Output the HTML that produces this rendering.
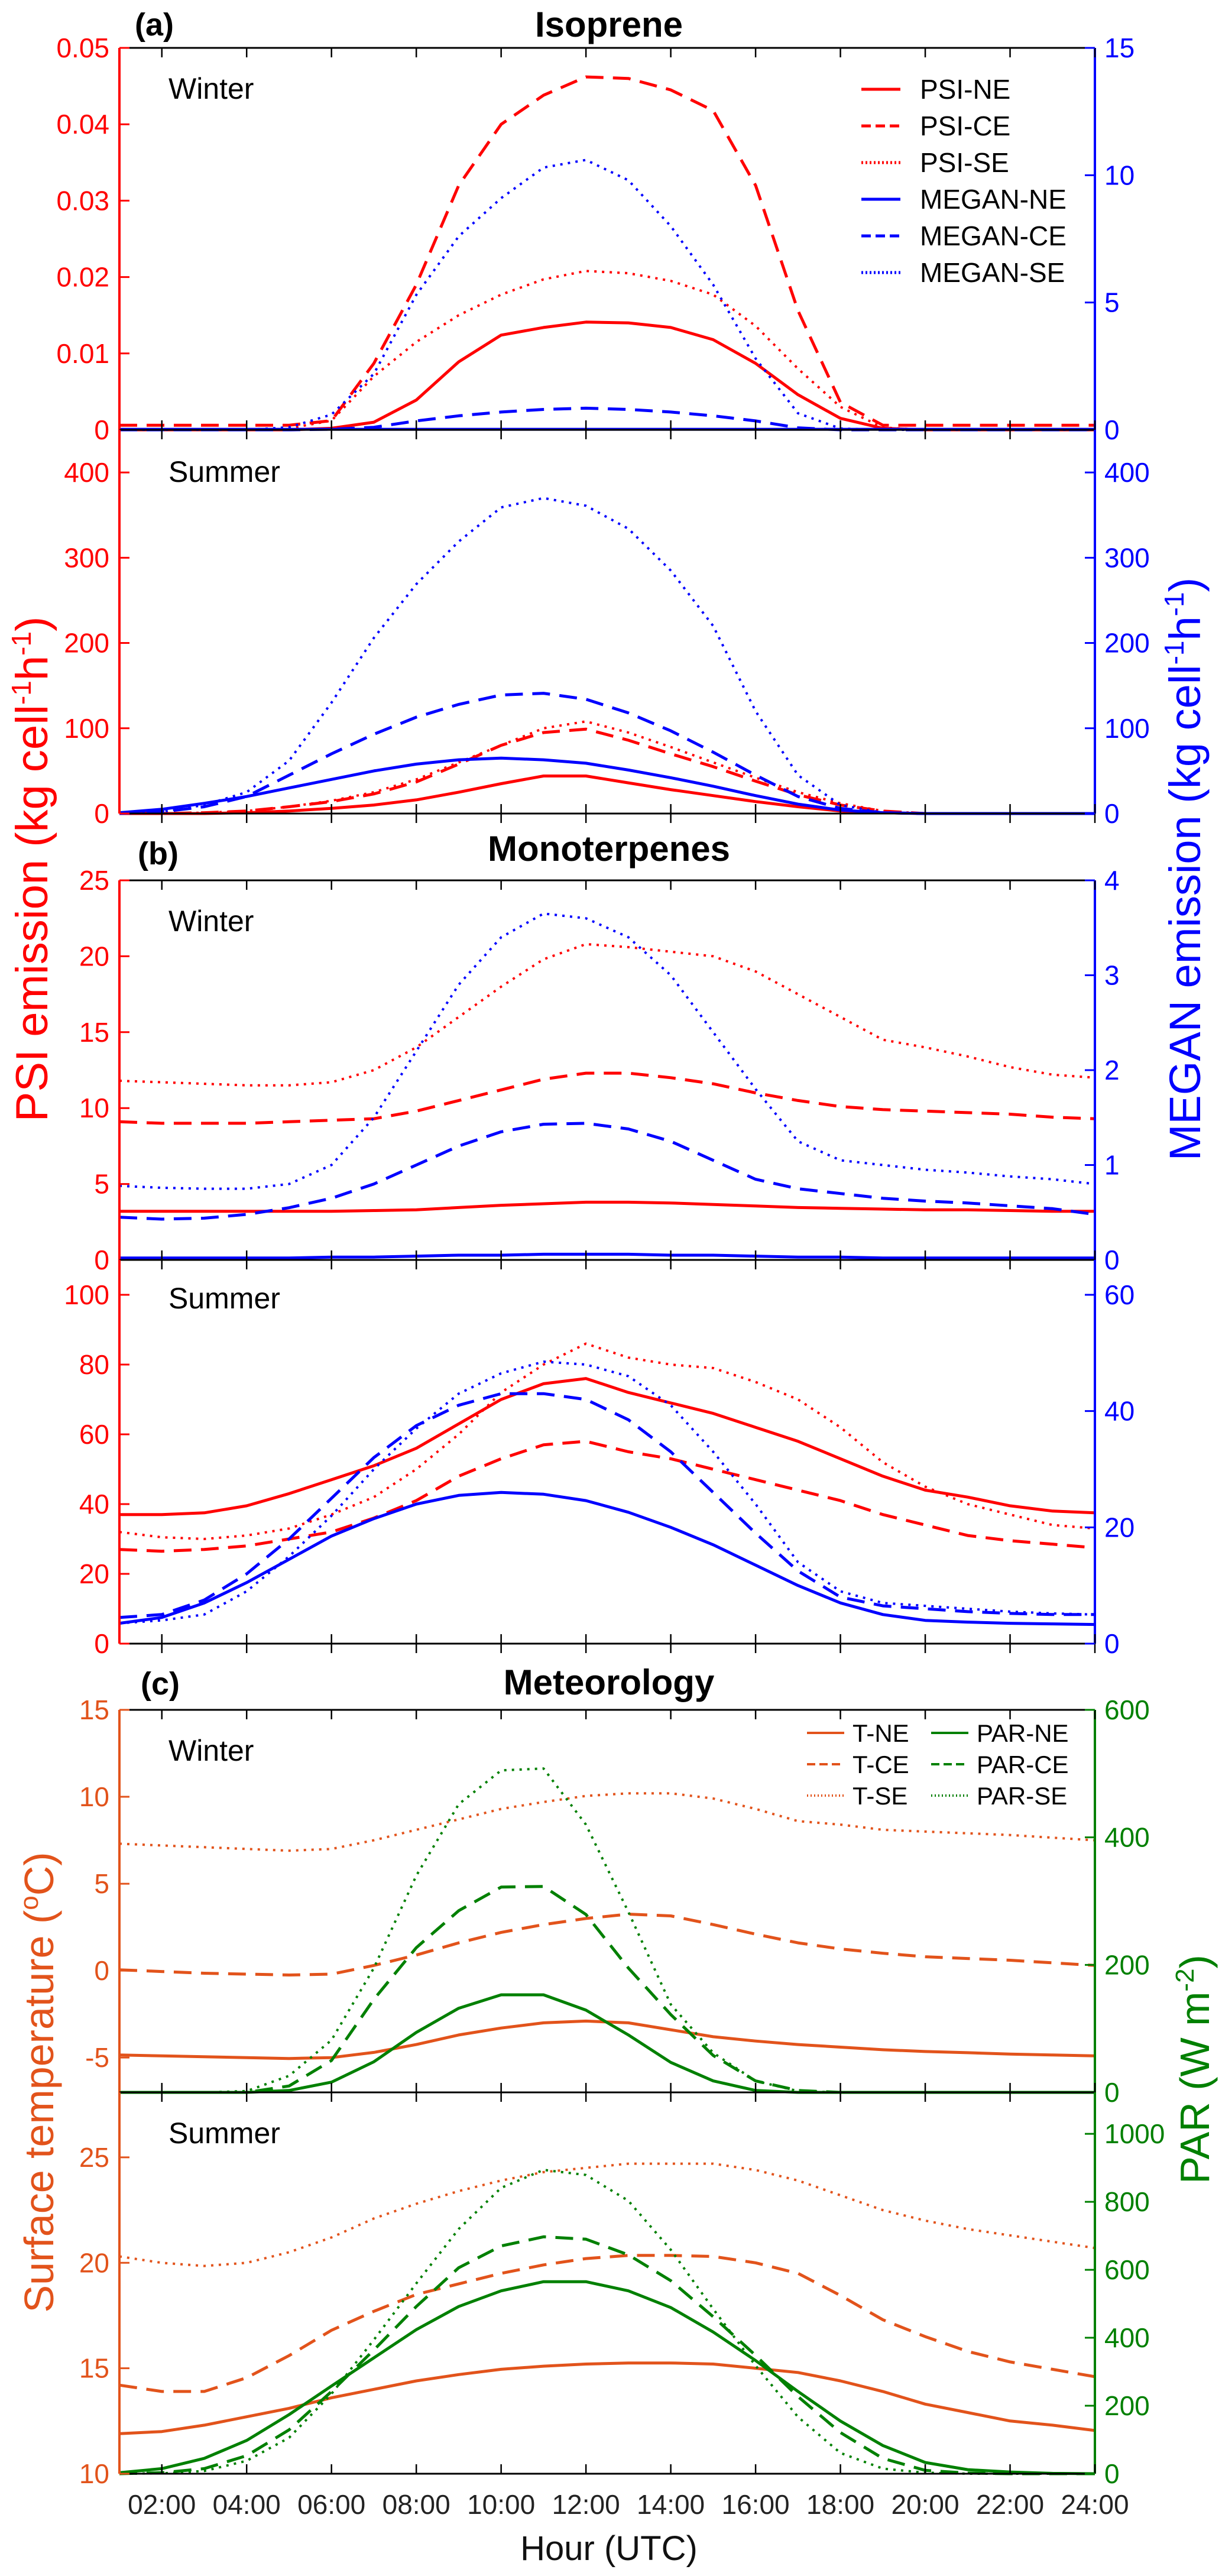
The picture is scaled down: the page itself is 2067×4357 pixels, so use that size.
<!DOCTYPE html>
<html><head><meta charset="utf-8">
<style>
html,body{margin:0;padding:0;background:#fff;}
svg{display:block;font-family:"Liberation Sans",Arial,sans-serif;}
</style></head>
<body>
<svg id="fig" width="2067" height="4357" viewBox="0 0 2067 4357" xmlns="http://www.w3.org/2000/svg">
<rect width="2067" height="4357" fill="#fff"/>
<g id="plot"></g>
<text x="228" y="60" font-size="54" font-weight="bold">(a)</text>
<text x="1030" y="62" font-size="60" font-weight="bold" text-anchor="middle">Isoprene</text>
<text x="233" y="1462" font-size="54" font-weight="bold">(b)</text>
<text x="1030" y="1456" font-size="60" font-weight="bold" text-anchor="middle">Monoterpenes</text>
<text x="238" y="2866" font-size="54" font-weight="bold">(c)</text>
<text x="1030" y="2866" font-size="60" font-weight="bold" text-anchor="middle">Meteorology</text>
<text transform="translate(80,1470) rotate(-90)" font-size="76" fill="#ff0000" text-anchor="middle">PSI emission (kg cell<tspan font-size="46" dy="-28">-1</tspan><tspan dy="28">h</tspan><tspan font-size="46" dy="-28">-1</tspan><tspan dy="28">)</tspan></text>
<text transform="translate(2030,1470) rotate(-90)" font-size="74" fill="#0000ff" text-anchor="middle">MEGAN emission (kg cell<tspan font-size="46" dy="-28">-1</tspan><tspan dy="28">h</tspan><tspan font-size="46" dy="-28">-1</tspan><tspan dy="28">)</tspan></text>
<text transform="translate(90,3522) rotate(-90)" font-size="70" fill="#e2531b" text-anchor="middle">Surface temperature (<tspan font-size="44" dy="-26">o</tspan><tspan dy="26">C)</tspan></text>
<text transform="translate(2045,3500) rotate(-90)" font-size="70" fill="#008000" text-anchor="middle">PAR (W m<tspan font-size="44" dy="-26">-2</tspan><tspan dy="26">)</tspan></text>
<text x="1030" y="4330" font-size="58" text-anchor="middle" fill="#111">Hour (UTC)</text>
</svg>
<script>
const hours=[1,2,3,4,5,6,7,8,9,10,11,12,13,14,15,16,17,18,19,20,21,22,23,24];
const xTickHours=[2,4,6,8,10,12,14,16,18,20,22,24];
const xTickLabels=["02:00","04:00","06:00","08:00","10:00","12:00","14:00","16:00","18:00","20:00","22:00","24:00"];
// Isoprene winter
const psiNeW=[0,0,0,0,0,0.0002,0.001,0.0039,0.0089,0.0124,0.0134,0.0141,0.014,0.0134,0.0118,0.0087,0.0046,0.0015,0.0002,0,0,0,0,0];
const psiCeW=[0.0006,0.0006,0.0006,0.0006,0.0006,0.0012,0.0087,0.019,0.032,0.040,0.0438,0.0462,0.046,0.0445,0.0418,0.032,0.0156,0.0036,0.0006,0.0006,0.0006,0.0006,0.0006,0.0006];
const psiSeW=[0,0,0,0,0.0002,0.0012,0.007,0.0115,0.015,0.0177,0.0197,0.0208,0.0205,0.0195,0.0177,0.0136,0.008,0.003,0.0003,0,0,0,0,0];
const meganNeW=[0.02,0.02,0.02,0.02,0.02,0.02,0.02,0.02,0.02,0.02,0.02,0.02,0.02,0.02,0.02,0.02,0.02,0.02,0.02,0.02,0.02,0.02,0.02,0.02];
const meganCeW=[0,0,0,0,0,0.02,0.1,0.35,0.55,0.7,0.8,0.85,0.8,0.7,0.55,0.35,0.08,0,0,0,0,0,0,0];
const meganSeW=[0,0,0,0,0.1,0.6,2.2,5.3,7.6,9.1,10.3,10.6,9.8,8.0,5.7,2.8,0.65,0.05,0,0,0,0,0,0];
// Isoprene summer
const psiNeS=[0,0,0,1,3,6,10,16,25,35,44,44,36,28,21,14,8,3,1,0,0,0,0,0];
const psiCeS=[0,0,1,3,8,14,23,37,58,80,95,99,86,70,55,38,22,10,3,0,0,0,0,0];
const psiSeS=[0,0,1,3,8,15,25,40,60,80,100,108,95,78,60,42,25,12,3,0,0,0,0,0];
const meganNeS=[1,5,12,20,30,40,50,58,63,65,63,59,51,42,32,21,11,4,1,0,0,0,0,0];
const meganCeS=[0,2,8,20,45,70,93,113,128,139,141,134,118,97,72,45,20,6,1,0,0,0,0,0];
const meganSeS=[0,2,10,25,62,130,206,269,319,359,370,361,334,285,220,120,45,10,1,0,0,0,0,0];
// Monoterpenes winter
const psiNeMW=[3.2,3.2,3.2,3.2,3.2,3.2,3.25,3.3,3.45,3.6,3.7,3.8,3.8,3.75,3.65,3.55,3.45,3.4,3.35,3.3,3.3,3.25,3.2,3.2];
const psiCeMW=[9.1,9.0,9.0,9.0,9.1,9.2,9.3,9.8,10.5,11.2,11.9,12.3,12.3,12.0,11.6,11.0,10.5,10.1,9.9,9.8,9.7,9.6,9.4,9.3];
const psiSeMW=[11.8,11.7,11.6,11.5,11.5,11.7,12.5,14.0,16.0,18.0,19.8,20.8,20.6,20.3,20.0,19.0,17.5,16.0,14.5,14.0,13.4,12.7,12.2,12.0];
const meganNeMW=[0.02,0.02,0.02,0.02,0.02,0.03,0.03,0.04,0.05,0.05,0.06,0.06,0.06,0.05,0.05,0.04,0.03,0.03,0.02,0.02,0.02,0.02,0.02,0.02];
const meganCeMW=[0.45,0.43,0.44,0.48,0.55,0.65,0.8,1.0,1.2,1.35,1.43,1.44,1.38,1.25,1.05,0.85,0.75,0.7,0.65,0.62,0.6,0.57,0.54,0.48];
const meganSeMW=[0.78,0.76,0.75,0.75,0.8,1.0,1.5,2.2,2.9,3.4,3.65,3.6,3.4,3.0,2.4,1.8,1.25,1.05,1.0,0.95,0.92,0.88,0.85,0.8];
// Monoterpenes summer
const psiNeMS=[37,37,37.5,39.5,43,47,51,56,63,70,74.5,76,72,69,66,62,58,53,48,44,42,39.5,38,37.5];
const psiCeMS=[27,26.5,27,28,30,32,36,41,48,53,57,58,55,53,50,47,44,41,37,34,31,29.5,28.5,27.5];
const psiSeMS=[32,30.5,30,31,33,37,42,50,60,72,80,86,82,80,79,75,70,62,52,45,40,37,34,33];
const meganNeMS=[3.5,4.5,7,10.5,14.5,18.5,21.5,24,25.5,26,25.7,24.6,22.6,20,17,13.5,10,7,5,4,3.7,3.5,3.4,3.3];
const meganCeMS=[4.5,5,7.5,12,18,25,32,37.5,41,43,43,42,38.5,33,26,19,12.5,8,6.5,6,5.5,5.2,5,5];
const meganSeMS=[3.5,4,5,9,15,22,30,37,43,46.5,48.5,48,46,41,33,24,14,9,7,6.5,6,5.5,5.2,5];
// Meteorology winter
const tNeW=[-4.85,-4.9,-4.95,-5.0,-5.05,-5.0,-4.7,-4.25,-3.7,-3.3,-3.0,-2.9,-3.0,-3.4,-3.8,-4.05,-4.25,-4.4,-4.55,-4.65,-4.72,-4.8,-4.85,-4.9];
const tCeW=[0.05,-0.05,-0.15,-0.2,-0.25,-0.2,0.3,0.9,1.6,2.2,2.65,3.0,3.25,3.15,2.65,2.1,1.6,1.25,1.0,0.8,0.7,0.6,0.45,0.3];
const tSeW=[7.3,7.2,7.1,7.0,6.9,7.0,7.5,8.1,8.7,9.3,9.7,10.05,10.2,10.2,9.9,9.3,8.6,8.4,8.1,8.0,7.9,7.8,7.65,7.5];
const parNeW=[0,0,0,0,3,16,48,94,132,153,153,129,90,47,18,3,0,0,0,0,0,0,0,0];
const parCeW=[0,0,0,0,10,50,146,227,285,322,323,279,195,122,58,18,3,0,0,0,0,0,0,0];
const parSeW=[0,0,0,2,26,82,195,340,452,505,508,420,283,138,62,18,2,0,0,0,0,0,0,0];
// Meteorology summer
const tNeS=[11.9,12.0,12.3,12.7,13.1,13.6,14.0,14.4,14.7,14.95,15.1,15.2,15.25,15.25,15.2,15.0,14.8,14.4,13.9,13.3,12.9,12.5,12.3,12.05];
const tCeS=[14.2,13.9,13.9,14.55,15.6,16.8,17.7,18.5,19.0,19.5,19.9,20.2,20.35,20.35,20.3,20.0,19.5,18.45,17.3,16.5,15.8,15.3,14.95,14.6];
const tSeS=[20.3,20.0,19.85,20.0,20.5,21.2,22.1,22.8,23.4,23.9,24.3,24.5,24.7,24.7,24.7,24.4,23.9,23.2,22.5,22.0,21.6,21.3,21.0,20.7];
const parNeS=[3,15,45,98,174,258,341,424,492,538,565,565,538,489,417,333,242,155,83,33,12,5,1,0];
const parCeS=[0,3,15,53,129,242,364,492,606,670,697,690,644,568,462,348,227,121,45,10,2,0,0,0];
const parSeS=[0,1,8,38,106,235,394,560,720,841,894,879,803,659,485,318,167,61,15,3,0,0,0,0];
// Tick values
const ticksAWL=[0,0.01,0.02,0.03,0.04,0.05], ticksAWR=[0,5,10,15];
const ticksASL=[0,100,200,300,400], ticksASR=[0,100,200,300,400];
const ticksBWL=[0,5,10,15,20,25], ticksBWR=[0,1,2,3,4];
const ticksBSL=[0,20,40,60,80,100], ticksBSR=[0,20,40,60];
const ticksCWL=[-5,0,5,10,15], ticksCWR=[0,200,400,600];
const ticksCSL=[10,15,20,25], ticksCSR=[0,200,400,600,800,1000];

const X0=202,X1=1852;
const RED="#ff0000",BLUE="#0000ff",ORG="#e2531b",GRN="#008000";
const DASH="30,16",DOT="4,9";
function xs(h){return X0+(h-1)*(X1-X0)/23;}
const NS="http://www.w3.org/2000/svg";
const plot=document.getElementById('plot');
function mk(tag,attrs,parent){const e=document.createElementNS(NS,tag);for(const k in attrs)e.setAttribute(k,attrs[k]);(parent||plot).appendChild(e);return e;}

const panels=[
 {name:'isoprene-winter',top:81,bot:727,lmin:0,lmax:0.05,rmin:0,rmax:15,lc:RED,rc:BLUE,lt:ticksAWL,rt:ticksAWR,season:'Winter',sy:167,first:true,
  series:[['psi-ne',psiNeW,'L',RED,''],['psi-ce',psiCeW,'L',RED,DASH],['psi-se',psiSeW,'L',RED,DOT],['megan-ne',meganNeW,'R',BLUE,''],['megan-ce',meganCeW,'R',BLUE,DASH],['megan-se',meganSeW,'R',BLUE,DOT]]},
 {name:'isoprene-summer',top:727,bot:1376,lmin:0,lmax:450,rmin:0,rmax:450,lc:RED,rc:BLUE,lt:ticksASL,rt:ticksASR,season:'Summer',sy:815,
  series:[['psi-ne',psiNeS,'L',RED,''],['psi-ce',psiCeS,'L',RED,DASH],['psi-se',psiSeS,'L',RED,DOT],['megan-ne',meganNeS,'R',BLUE,''],['megan-ce',meganCeS,'R',BLUE,DASH],['megan-se',meganSeS,'R',BLUE,DOT]]},
 {name:'monoterpenes-winter',top:1489,bot:2131,lmin:0,lmax:25,rmin:0,rmax:4,lc:RED,rc:BLUE,lt:ticksBWL,rt:ticksBWR,season:'Winter',sy:1575,first:true,
  series:[['psi-ne',psiNeMW,'L',RED,''],['psi-ce',psiCeMW,'L',RED,DASH],['psi-se',psiSeMW,'L',RED,DOT],['megan-ne',meganNeMW,'R',BLUE,''],['megan-ce',meganCeMW,'R',BLUE,DASH],['megan-se',meganSeMW,'R',BLUE,DOT]]},
 {name:'monoterpenes-summer',top:2131,bot:2780,lmin:0,lmax:110,rmin:0,rmax:66,lc:RED,rc:BLUE,lt:ticksBSL,rt:ticksBSR,season:'Summer',sy:2213,
  series:[['psi-ne',psiNeMS,'L',RED,''],['psi-ce',psiCeMS,'L',RED,DASH],['psi-se',psiSeMS,'L',RED,DOT],['megan-ne',meganNeMS,'R',BLUE,''],['megan-ce',meganCeMS,'R',BLUE,DASH],['megan-se',meganSeMS,'R',BLUE,DOT]]},
 {name:'meteorology-winter',top:2892,bot:3539,lmin:-7,lmax:15,rmin:0,rmax:600,lc:ORG,rc:GRN,lt:ticksCWL,rt:ticksCWR,season:'Winter',sy:2978,first:true,
  series:[['t-ne',tNeW,'L',ORG,''],['t-ce',tCeW,'L',ORG,DASH],['t-se',tSeW,'L',ORG,DOT],['par-ne',parNeW,'R',GRN,''],['par-ce',parCeW,'R',GRN,DASH],['par-se',parSeW,'R',GRN,DOT]]},
 {name:'meteorology-summer',top:3539,bot:4184,lmin:10,lmax:28.08,rmin:0,rmax:1122,lc:ORG,rc:GRN,lt:ticksCSL,rt:ticksCSR,season:'Summer',sy:3625,last:true,
  series:[['t-ne',tNeS,'L',ORG,''],['t-ce',tCeS,'L',ORG,DASH],['t-se',tSeS,'L',ORG,DOT],['par-ne',parNeS,'R',GRN,''],['par-ce',parCeS,'R',GRN,DASH],['par-se',parSeS,'R',GRN,DOT]]}
];

panels.forEach(p=>{
  const g=mk('g',{});
  
  
  const yl=v=>p.bot-(v-p.lmin)/(p.lmax-p.lmin)*(p.bot-p.top);
  const yr=v=>p.bot-(v-p.rmin)/(p.rmax-p.rmin)*(p.bot-p.top);
  p.series.forEach(s=>{
    const f=s[2]==='L'?yl:yr;
    const pts=s[1].map((v,i)=>xs(hours[i]).toFixed(1)+','+f(v).toFixed(1)).join(' ');
    const a={points:pts,fill:'none',stroke:s[3],'stroke-width':s[4]===DOT?4:5,'stroke-linejoin':'round'};
    if(s[4])a['stroke-dasharray']=s[4];
    const pl=mk('polyline',a,g);
    
    
  });
  const top=mk('line',{x1:X0,y1:p.top,x2:X1,y2:p.top,stroke:'#000','stroke-width':3},g);
  
  
  const bot=mk('line',{x1:X0,y1:p.bot,x2:X1,y2:p.bot,stroke:'#000','stroke-width':3},g);
  
  
  const la=mk('line',{x1:X0,y1:p.top,x2:X0,y2:p.bot,stroke:p.lc,'stroke-width':4},g);
  
  
  const ra=mk('line',{x1:X1,y1:p.top,x2:X1,y2:p.bot,stroke:p.rc,'stroke-width':4},g);
  
  
  xTickHours.forEach(h=>{
    const x=xs(h);
    if(p.first){const t=mk('line',{x1:x,y1:p.top,x2:x,y2:p.top+16,stroke:'#000','stroke-width':2.5},g);
      }
    const t2=mk('line',{x1:x,y1:p.bot-16,x2:x,y2:p.last?p.bot:p.bot+16,stroke:'#000','stroke-width':2.5},g);
    
    
  });
  p.lt.forEach(v=>{
    const y=yl(v);
    const t=mk('line',{x1:X0,y1:y,x2:X0+17,y2:y,stroke:p.lc,'stroke-width':3},g);
    
    const tx=mk('text',{x:185,y:y+16,'font-size':46,fill:p.lc,'text-anchor':'end'},g);
    
    
    tx.textContent=String(v);
  });
  p.rt.forEach(v=>{
    const y=yr(v);
    const t=mk('line',{x1:X1-17,y1:y,x2:X1,y2:y,stroke:p.rc,'stroke-width':3},g);
    
    const tx=mk('text',{x:1868,y:y+16,'font-size':46,fill:p.rc},g);
    
    
    tx.textContent=String(v);
  });
  const st=mk('text',{x:285,y:p.sy,'font-size':50,fill:'#000'},g);
  
  
  st.textContent=p.season;
});
xTickHours.forEach((h,i)=>{
  const t=mk('text',{x:xs(h),y:4252,'font-size':46,'text-anchor':'middle',fill:'#222'});
  
  
  t.textContent=xTickLabels[i];
});
const legA=[['PSI-NE',RED,''],['PSI-CE',RED,DASH],['PSI-SE',RED,DOT],['MEGAN-NE',BLUE,''],['MEGAN-CE',BLUE,DASH],['MEGAN-SE',BLUE,DOT]];
legA.forEach((e,i)=>{
  const y=151+i*62;
  const a={x1:1457,y1:y,x2:1523,y2:y,stroke:e[1],'stroke-width':5};
  if(e[2])a['stroke-dasharray']=e[2]===DASH?'16,8':'3,4';
  const l=mk('line',a);
  
  
  const t=mk('text',{x:1556,y:y+16,'font-size':46,fill:'#000'});
  
  
  t.textContent=e[0];
});
const legC=[['T-NE',ORG,'',0,0],['T-CE',ORG,DASH,0,1],['T-SE',ORG,DOT,0,2],['PAR-NE',GRN,'',1,0],['PAR-CE',GRN,DASH,1,1],['PAR-SE',GRN,DOT,1,2]];
legC.forEach(e=>{
  const y=2931+e[4]*53;
  const x=e[3]?1575:1365;
  const a={x1:x,y1:y,x2:x+63,y2:y,stroke:e[1],'stroke-width':4};
  if(e[2])a['stroke-dasharray']=e[2]===DASH?'14,7':'2,4';
  const l=mk('line',a);
  
  
  const t=mk('text',{x:x+77,y:y+15,'font-size':42,fill:'#000'});
  
  
  t.textContent=e[0];
});
</script>
</body></html>
